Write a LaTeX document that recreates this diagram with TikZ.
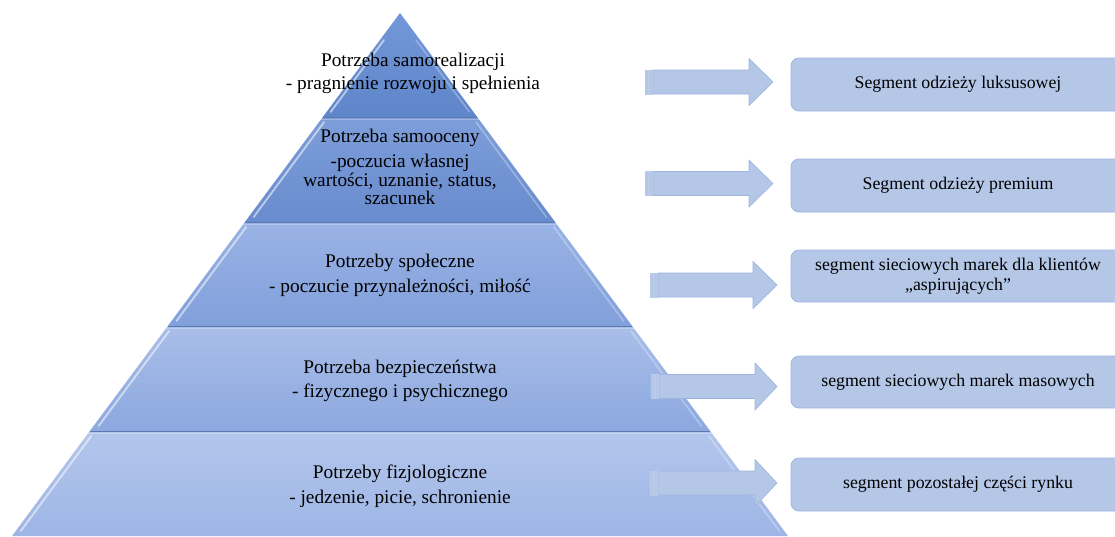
\documentclass[tikz,border=0pt]{standalone}
\usepackage{fontspec}
\setmainfont{Liberation Serif}
\definecolor{boxfill}{HTML}{B4C7E7}
\definecolor{boxedge}{HTML}{9DB4DF}
\definecolor{sepline}{HTML}{5B78AC}
\definecolor{l1top}{HTML}{7298D9}
\definecolor{l1bot}{HTML}{5F85CA}
\definecolor{l2top}{HTML}{7E9EDA}
\definecolor{l2bot}{HTML}{688BCE}
\definecolor{l3top}{HTML}{9AB3E5}
\definecolor{l3bot}{HTML}{819FDB}
\definecolor{l4top}{HTML}{A9BEE9}
\definecolor{l4bot}{HTML}{8CA8DF}
\definecolor{l5top}{HTML}{B3C6EC}
\definecolor{l5bot}{HTML}{9EB5E5}
% striped block arrow: tail x, head start x, tip x, centre y
\newcommand\stripearrow[4]{%
  \filldraw[arrowshape] (#1+8,#4-12) -- (#2,#4-12) -- (#2,#4-23.5) -- (#3,#4)
    -- (#2,#4+23.5) -- (#2,#4+12) -- (#1+8,#4+12) -- cycle;
  \filldraw[arrowshape, draw=boxedge!70] (#1,#4-12) rectangle (#1+3,#4+12);
  \filldraw[arrowshape, draw=boxedge!70] (#1+4,#4-12) rectangle (#1+7,#4+12);
}
\begin{document}
\begin{tikzpicture}[x=1pt,y=-1pt,
  needtext/.style={font=\fontsize{19.3}{23}\selectfont, inner sep=0pt, anchor=base},
  segbox/.style={draw=boxedge, fill=boxfill, rounded corners=8pt, line width=0.8pt,
    align=center, font=\fontsize{17.8}{19.5}\selectfont, inner sep=0pt,
    minimum width=334pt, minimum height=53pt},
  arrowshape/.style={fill=boxfill, draw=boxedge, line width=0.6pt},
  bevel/.style={white, opacity=0.55, line width=1.8pt, line cap=round},
  bevelr/.style={white, opacity=0.3, line width=1.5pt, line cap=round},
  sep/.style={sepline, line width=0.9pt}]
\useasboundingbox (0,0) rectangle (1115,536);
\clip (0,0) rectangle (1115,536);

% pyramid levels
\shade[top color=l1top, bottom color=l1bot] (400,13) -- (477.2,117) -- (322.8,117) -- cycle;
\shade[top color=l2top, bottom color=l2bot] (322.8,117) -- (477.2,117) -- (555.1,222) -- (244.9,222) -- cycle;
\shade[top color=l3top, bottom color=l3bot] (244.9,222) -- (555.1,222) -- (632.2,326) -- (167.8,326) -- cycle;
\shade[top color=l4top, bottom color=l4bot] (167.8,326) -- (632.2,326) -- (710.2,431) -- (89.8,431) -- cycle;
\shade[top color=l5top, bottom color=l5bot] (89.8,431) -- (710.2,431) -- (788,536) -- (12,536) -- cycle;

% bevel highlights along the sloping edges
\draw[bevel] (384,40) -- (330.6,112);
\draw[bevelr] (416,40) -- (469.4,112);
\draw[bevel] (324.1,122) -- (253.7,217);
\draw[bevelr] (475.9,122) -- (546.3,217);
\draw[bevel] (246.2,227) -- (176.5,321);
\draw[bevelr] (553.8,227) -- (623.5,321);
\draw[bevel] (169.1,331) -- (98.6,426);
\draw[bevelr] (630.9,331) -- (701.4,426);
\draw[bevel] (91.2,436) -- (20.7,531);
\draw[bevelr] (708.8,436) -- (779.3,531);

% level separators
\draw[sep] (322.8,117) -- (477.2,117);
\draw[sep] (244.9,222) -- (555.1,222);
\draw[sep] (167.8,326) -- (632.2,326);
\draw[sep] (89.8,431) -- (710.2,431);
\draw[white, opacity=0.25, line width=1.5pt] (321,119.5) -- (479,119.5);
\draw[white, opacity=0.25, line width=1.5pt] (243,224.5) -- (557,224.5);
\draw[white, opacity=0.25, line width=1.5pt] (166,328.5) -- (634,328.5);
\draw[white, opacity=0.25, line width=1.5pt] (88,433.5) -- (712,433.5);

% level texts
\node[needtext] (n1a) at (413,66) {Potrzeba samorealizacji};
\node[needtext] (n1b) at (413,89) {- pragnienie rozwoju i spełnienia};
\node[needtext] (n2a) at (400,142) {Potrzeba samooceny};
\node[needtext] (n2b) at (400,167) {-poczucia własnej};
\node[needtext] (n2c) at (400,186) {wartości, uznanie, status,};
\node[needtext] (n2d) at (400,204) {szacunek};
\node[needtext] (n3a) at (400,267) {Potrzeby społeczne};
\node[needtext] (n3b) at (400,292) {- poczucie przynależności, miłość};
\node[needtext] (n4a) at (400,373) {Potrzeba bezpieczeństwa};
\node[needtext] (n4b) at (400,397) {- fizycznego i psychicznego};
\node[needtext] (n5a) at (400,478) {Potrzeby fizjologiczne};
\node[needtext] (n5b) at (400,503) {- jedzenie, picie, schronienie};

% arrows
\stripearrow{645}{749}{773}{82}
\stripearrow{645}{749}{773}{183.5}
\stripearrow{650}{753}{777}{285}
\stripearrow{651}{755}{777}{386.5}
\stripearrow{650}{755}{777}{483}

% market segments
\node[segbox] (s1) at (958,84.5) {Segment odzieży luksusowej};
\node[segbox] (s2) at (958,185.5) {Segment odzieży premium};
\node[segbox, minimum height=52pt] (s3) at (958,276) {segment sieciowych marek dla klientów\\„aspirujących”};
\node[segbox, minimum height=52pt] (s4) at (958,382) {segment sieciowych marek masowych};
\node[segbox] (s5) at (958,484.5) {segment pozostałej części rynku};
\end{tikzpicture}
\end{document}
